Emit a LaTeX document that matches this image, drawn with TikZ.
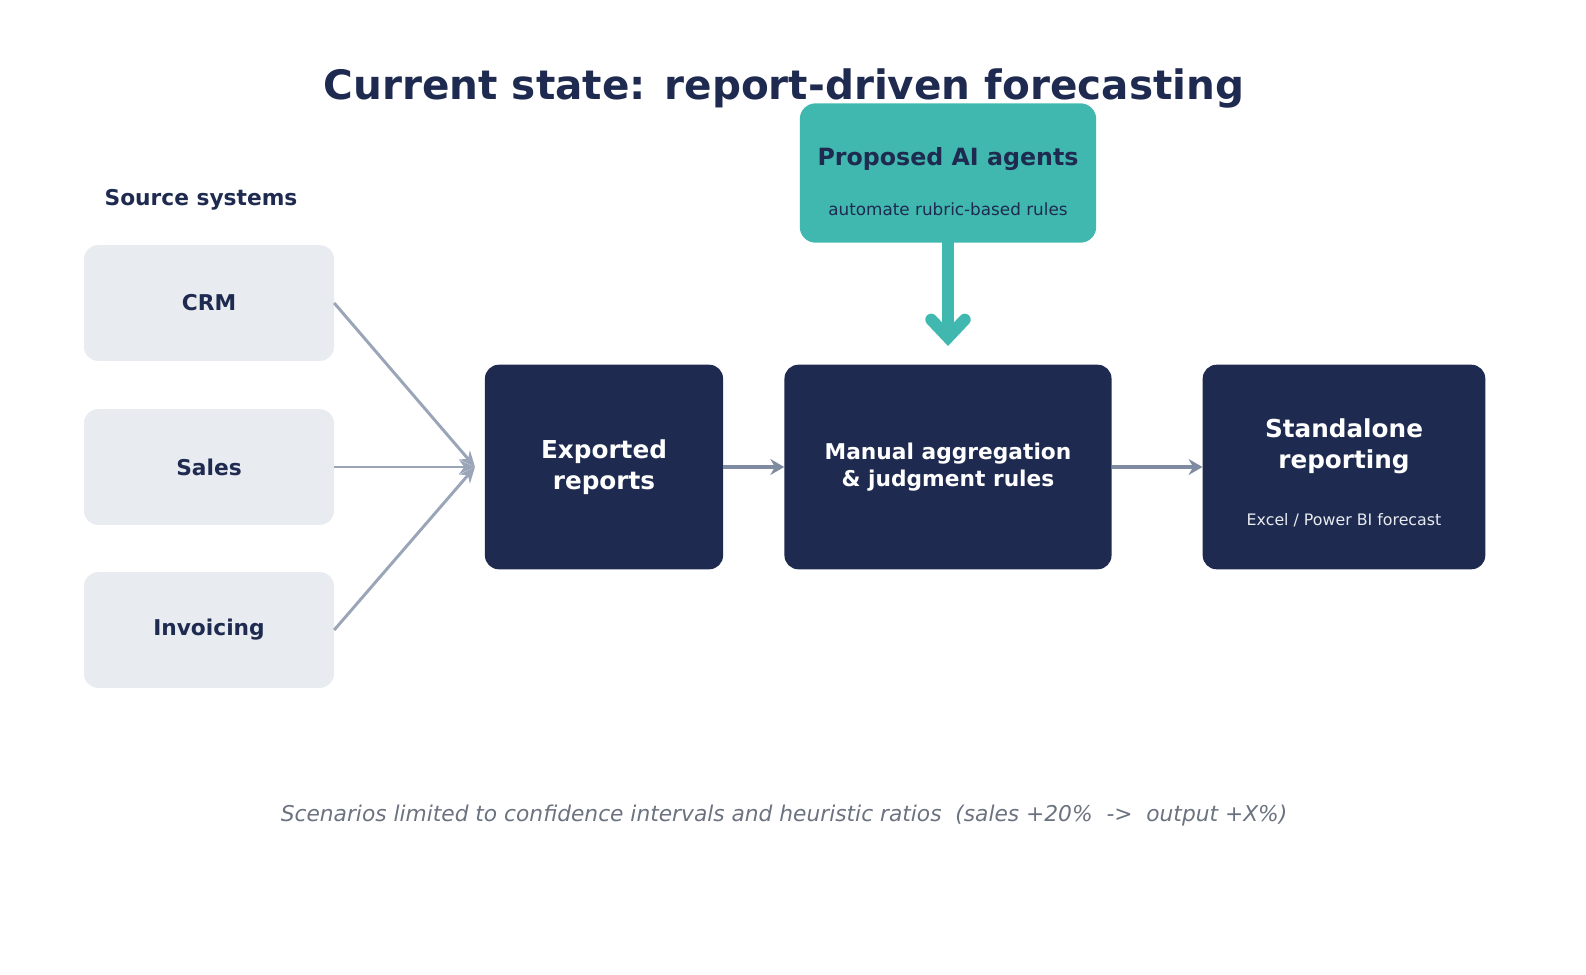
\documentclass[tikz,border=0pt]{standalone}
\usepackage{fontspec}
\setmainfont{DejaVu Sans}
\usetikzlibrary{arrows.meta}
\definecolor{navy}{HTML}{1E2A4F}
\definecolor{srcfill}{HTML}{E8EBF0}
\definecolor{teal}{HTML}{40B8AF}
\definecolor{wire}{HTML}{9AA5B8}
\definecolor{flow}{HTML}{7F8BA0}
\definecolor{note}{HTML}{6B7280}
\tikzstyle{source} = [rectangle, rounded corners=14pt, fill=srcfill, text=navy,
    minimum width=253pt, minimum height=117pt, font=\fontsize{22}{26}\selectfont\bfseries]
\tikzstyle{stage} = [rectangle, rounded corners=14pt, fill=navy, text=white,
    minimum height=207pt, align=center]
\tikzstyle{wireline} = [draw=wire, line width=3pt, -{Stealth[length=16pt,width=14pt]}]
\tikzstyle{flowline} = [draw=flow, line width=4.5pt, -{Stealth[length=14pt,width=16pt]}]

\begin{document}
\begin{tikzpicture}[x=1.012pt,y=-1.012pt]
    \useasboundingbox (0,0) rectangle (1586,975);
    % Title and labels
    \node[text=navy,font=\fontsize{41}{48}\selectfont\bfseries] (title) at (784,88) {Current state: report-driven forecasting};
    \node[text=navy,font=\fontsize{22}{26}\selectfont\bfseries] (srclabel) at (201,200) {Source systems};

    % Place nodes
    \node[source] (crm) at (209,303) {CRM};
    \node[source] (sales) at (209,467) {Sales};
    \node[source] (invoicing) at (209,630) {Invoicing};

    \node[stage,minimum width=241pt,font=\fontsize{25}{31}\selectfont\bfseries] (exported) at (604,467) {Exported\\reports};
    \node[stage,minimum width=331pt,font=\fontsize{22}{28}\selectfont\bfseries] (manual) at (948,467) {Manual aggregation\\\& judgment rules};
    \node[stage,minimum width=286pt] (standalone) at (1344,467) {};
    \node[text=white,align=center,font=\fontsize{25}{31}\selectfont\bfseries] (standtitle) at (1344,446) {Standalone\\reporting};
    \node[text=srcfill,font=\fontsize{16}{19}\selectfont] (standsub) at (1344,520) {Excel / Power BI forecast};

    \node[rectangle,rounded corners=16pt,fill=teal,minimum width=300pt,minimum height=141pt] (agents) at (948,173) {};
    \node[text=navy,font=\fontsize{24}{28}\selectfont\bfseries] (agentstitle) at (948,159) {Proposed AI agents};
    \node[text=navy,font=\fontsize{17}{20}\selectfont] (agentssub) at (948,209) {automate rubric-based rules};
    \coordinate (merge) at (475,467);
    \coordinate (drop) at (948,346);

    % Draw edges
    \path[wireline] (crm.east) -- (merge);
    \path[wireline] (sales.east) -- (merge);
    \path[wireline] (invoicing.east) -- (merge);
    \path[flowline] (exported) -- (manual);
    \path[flowline] (manual) -- (standalone);
    \draw[teal,line width=12pt,line cap=round,-{Straight Barb[length=18pt,width=34pt,line cap=round]}] (agents.south) -- (drop);

    \node[text=note,font=\fontsize{22}{26}\selectfont\itshape] (footer) at (784,815) {Scenarios limited to confidence intervals and heuristic ratios~ (sales +20\%~ ->~ output +X\%)};
\end{tikzpicture}
\end{document}
